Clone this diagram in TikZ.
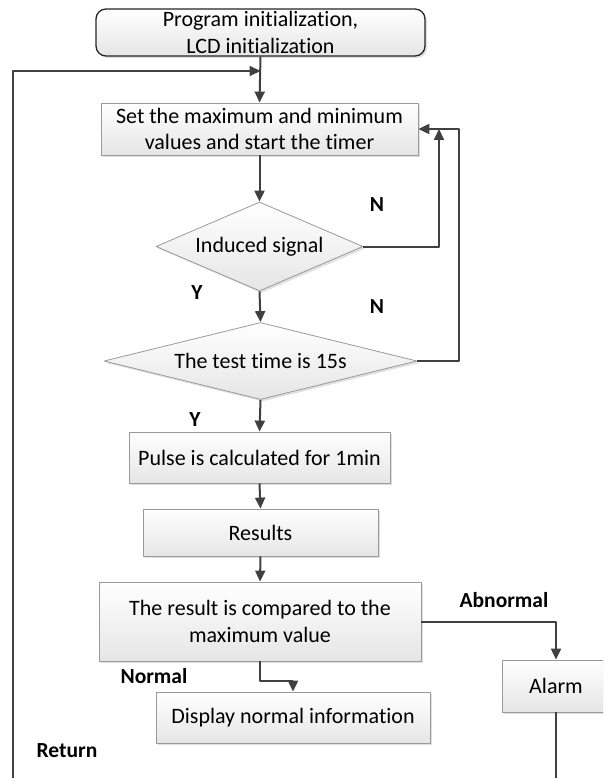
\documentclass[tikz,border=0pt]{standalone}
\usepackage{fontspec}
\setmainfont{Carlito}[Ligatures=NoCommon]
\usetikzlibrary{shapes.geometric,arrows.meta,shadows}
\definecolor{linegray}{HTML}{404040}
\definecolor{boxedge}{HTML}{9A9A9A}
\begin{document}
\begin{tikzpicture}[x=1pt,y=-1pt,>={Triangle[length=11pt,width=10pt]},line join=round,
	font=\fontsize{22}{26.5}\selectfont,
	box/.style={draw=boxedge,line width=0.8pt,top color=white,bottom color=gray!20,
		drop shadow={shadow xshift=2pt,shadow yshift=-2pt,opacity=0.25},
		inner sep=0pt,align=center},
	startbox/.style={box,draw=black!85,line width=1.3pt,rounded corners=10pt},
	decision/.style={box,diamond},
	flow/.style={->,draw=linegray,line width=2pt},
	lbl/.style={font=\fontsize{21.5}{24}\selectfont\bfseries}]
		\useasboundingbox (0,0) rectangle (603,778);
		\clip (0,0) rectangle (603,778);
		\node[startbox,minimum width=329pt,minimum height=47pt] (init) at (260.5,32.5) {Program initialization,\\LCD initialization};
		\node[box,minimum width=317pt,minimum height=52pt] (setv) at (259.5,129) {Set the maximum and minimum\\values and start the timer};
		\node[decision,aspect=2.33,minimum width=207pt,minimum height=89pt] (sig) at (259.5,246.5) {Induced signal};
		\node[decision,aspect=4.06,minimum width=313pt,minimum height=77pt] (tst) at (260.5,361) {The test time is 15s};
		\node[box,minimum width=261pt,minimum height=51pt] (pulse) at (259.5,457.5) {Pulse is calculated for 1min};
		\node[box,minimum width=235pt,minimum height=47pt] (res) at (260.5,532.5) {Results};
		\node[box,minimum width=322pt,minimum height=79pt] (cmp) at (260,621.5) {The result is compared to the\\maximum value};
		\node[box,minimum width=274pt,minimum height=51pt] (disp) at (293,717.5) {Display normal information};
		\node[box,minimum width=108pt,minimum height=52pt] (alarm) at (556,686) {Alarm};
		\node[lbl] (n1) at (377,205) {N};
		\node[lbl] (y1) at (197,293) {Y};
		\node[lbl] (n2) at (377,307) {N};
		\node[lbl] (y2) at (195,420) {Y};
		\node[lbl] (nrm) at (154,676) {Normal};
		\node[lbl] (abn) at (504,600) {Abnormal};
		\node[lbl] (ret) at (67,751) {Return};
		\coordinate (join) at (260.5,71);
		\coordinate (retbot) at (13,790);
		\coordinate (loopin) at (439,129);
		\coordinate (loopout) at (459,129);
		\draw[flow] (init.south) -- (setv.north);
		\draw[flow] (retbot) |- (join);
		\draw[flow] (setv.south) -- (sig.north);
		\draw[flow] (sig.east) -| (loopin);
		\draw[flow] (tst.east) -| (loopout) -- (setv.east);
		\draw[flow] (sig.south) -- (tst.north);
		\draw[flow] (tst.south) -- (pulse.north);
		\draw[flow] (pulse.south) -- (res.north);
		\draw[flow] (res.south) -- (cmp.north);
		\draw[flow] (cmp.east) -| (alarm.north);
		\draw[flow] (cmp.south) -- ++(0,20) -| (disp.north);
		\draw[flow,-] (alarm.south) -- (alarm.south |- retbot);
\end{tikzpicture}
\end{document}
